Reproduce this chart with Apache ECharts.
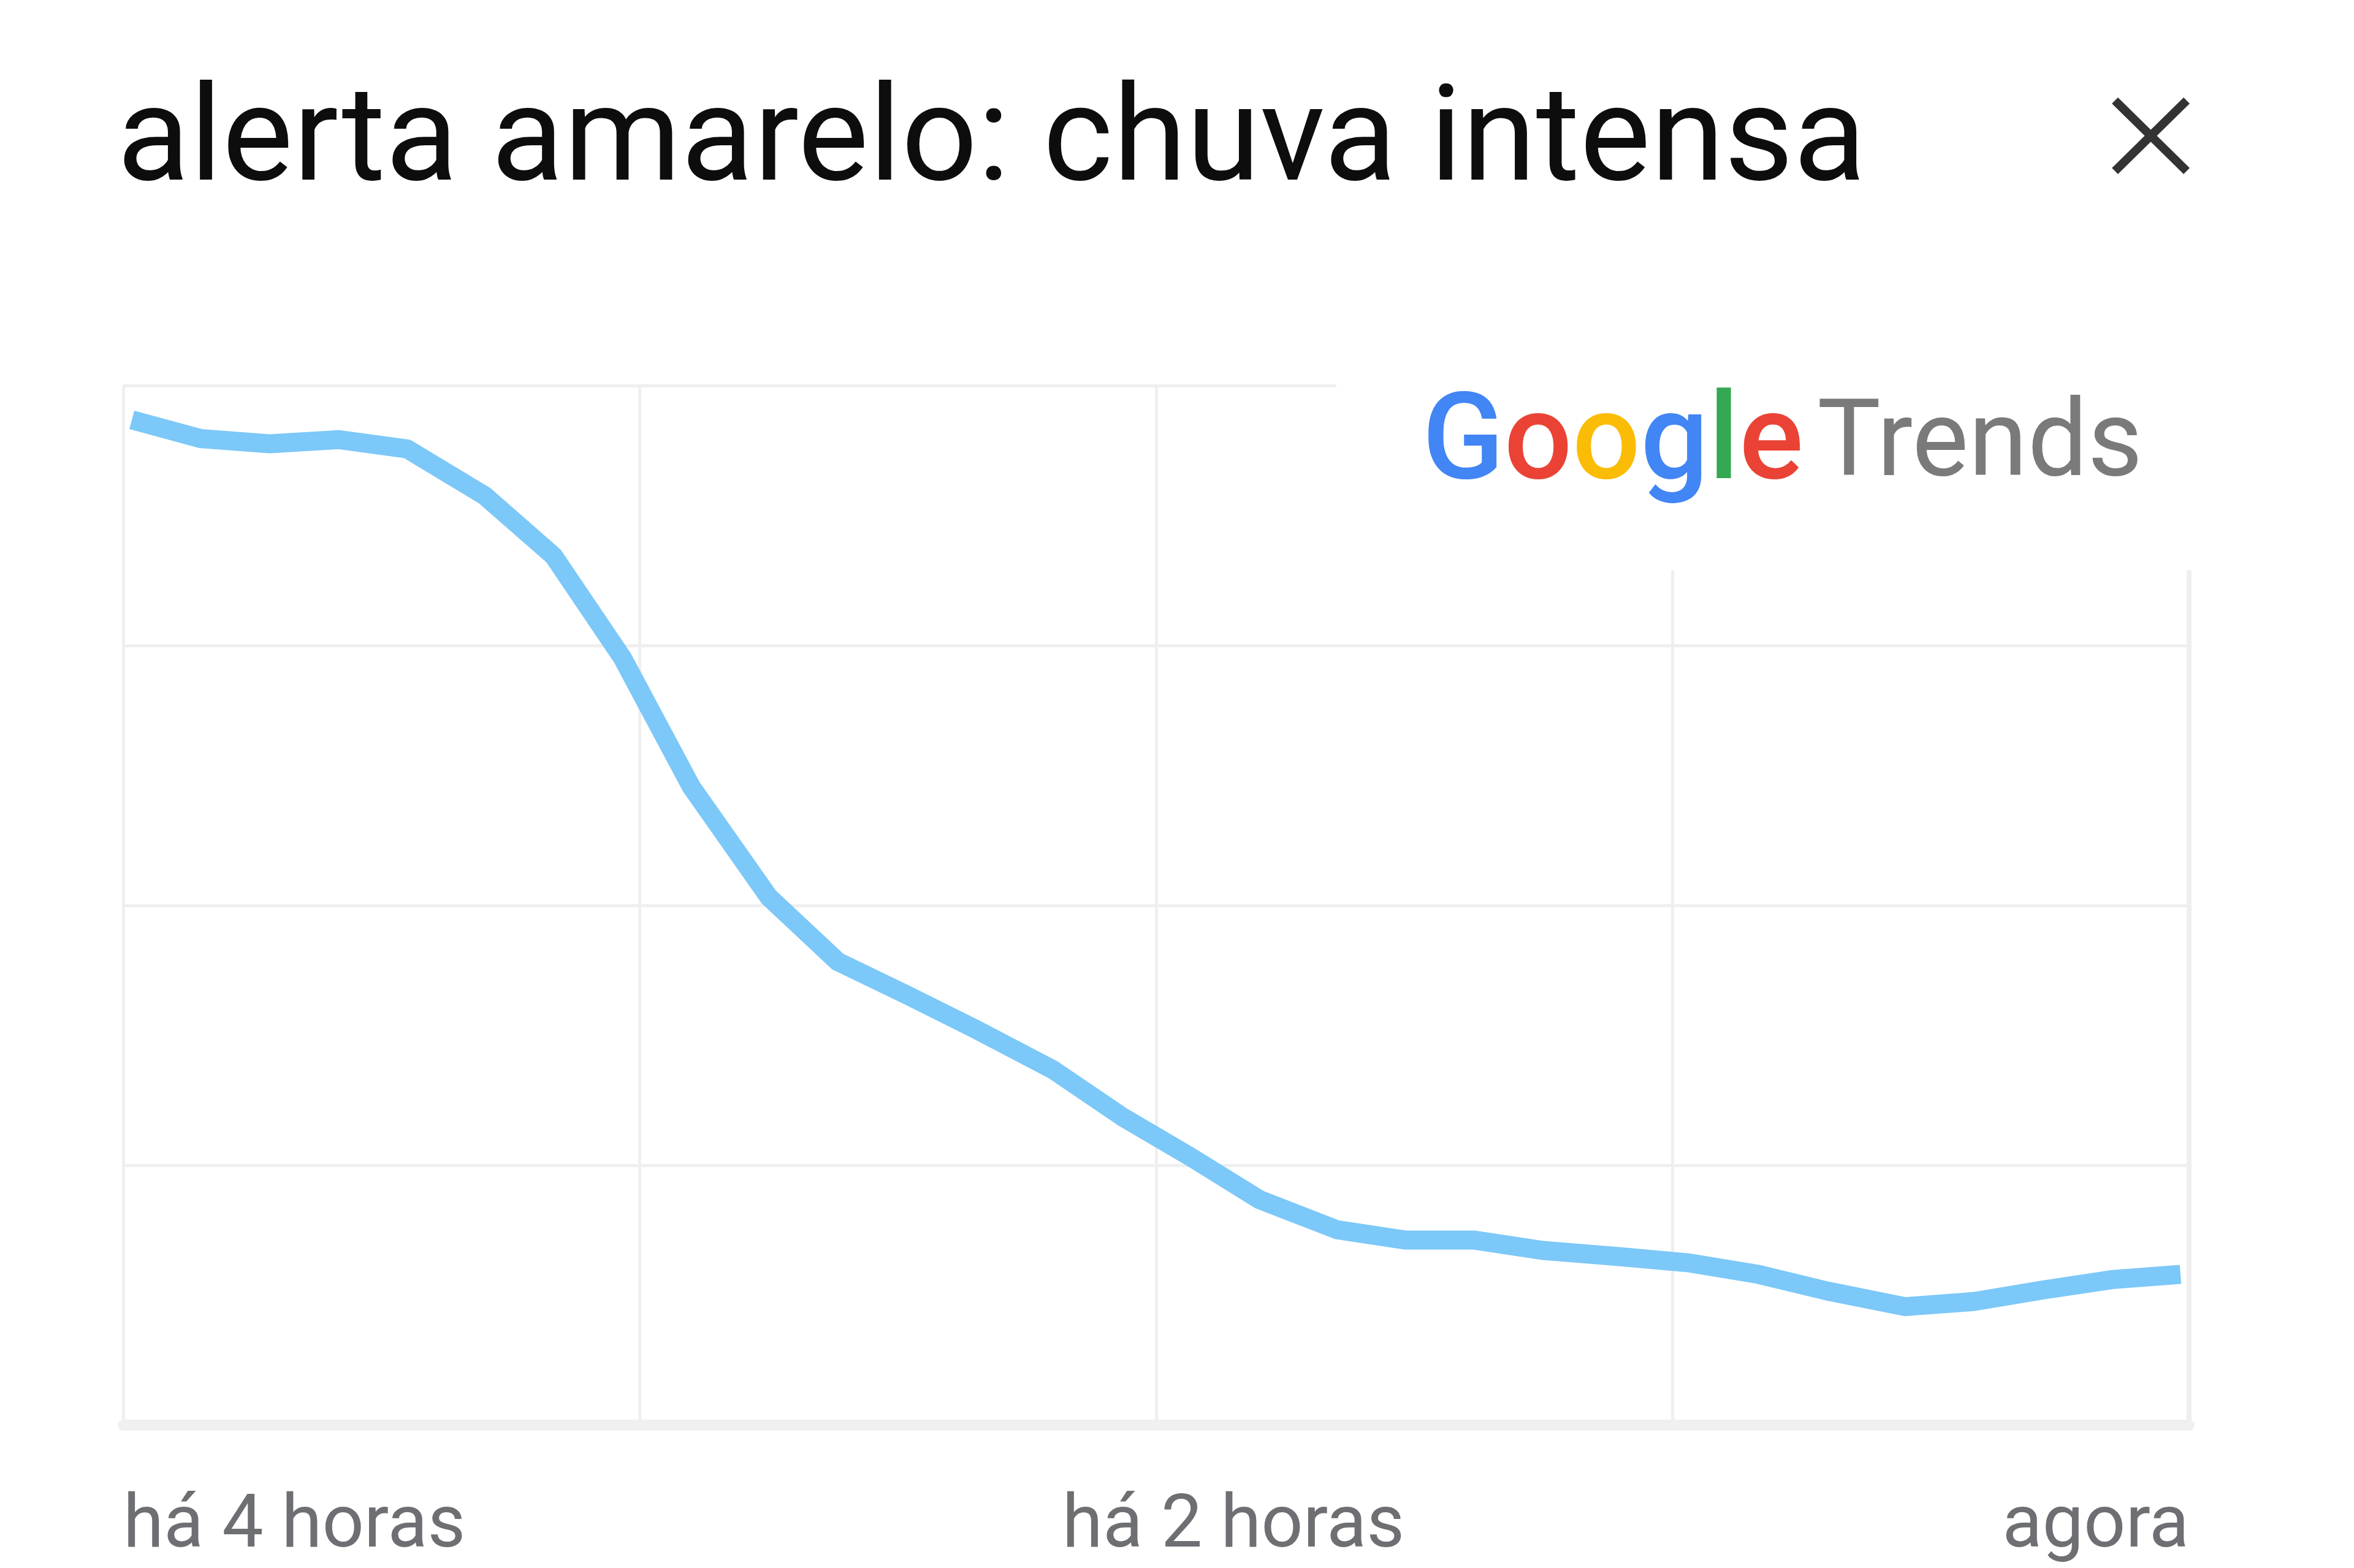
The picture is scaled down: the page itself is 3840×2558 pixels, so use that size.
<!DOCTYPE html>
<html>
<head>
<meta charset="utf-8">
<script src="https://cdn.jsdelivr.net/npm/echarts@6/dist/echarts.min.js"></script>
<style>
  html, body { margin: 0; padding: 0; background: #ffffff; }
  #chart { width: 3840px; height: 2558px; }
</style>
</head>
<body>
<div id="chart"></div>
<script>
// ---- data ----
const titleText = 'alerta amarelo: chuva intensa';
// minutes relative to "now" (x position of each sample)
const minutes = [-239, -231, -223, -215, -207, -198, -190, -182, -174, -165,
                 -157, -149, -141, -132, -124, -116, -108, -99, -91, -83,
                 -75, -66, -58, -50, -42, -33, -25, -17, -9, -1];
// search interest (0-100)
const interest = [96.7, 94.9, 94.4, 94.8, 93.9, 89.4, 83.6, 73.8, 61.4, 50.8,
                  44.6, 41.4, 38.1, 34.2, 29.7, 25.8, 21.7, 18.8, 17.8, 17.8,
                  16.8, 16.2, 15.6, 14.5, 12.9, 11.4, 11.9, 13.0, 14.0, 14.5];
const tickValues = [-240, -120, 0];
const tickLabels = ['há 4 horas', 'há 2 horas', 'agora'];

const seriesData = minutes.map((m, i) => [m, interest[i]]);

const chart = echarts.init(document.getElementById('chart'), null, { renderer: 'canvas' });
const gridColor = '#efefef';
const labelColor = '#6d6f72';

chart.setOption({
  backgroundColor: '#ffffff',
  animation: false,
  title: {
    text: titleText,
    left: 186,
    top: 124,
    textStyle: { fontFamily: 'Roboto', fontWeight: 'normal', fontSize: 218, color: '#0d0d0d' }
  },
  grid: { left: 201, right: 269, top: 629, bottom: 233, containLabel: false },
  xAxis: {
    type: 'value',
    min: -240, max: 0, interval: 60,
    axisLine: { show: true, lineStyle: { color: '#f0f0f0', width: 18 } },
    axisTick: { show: false },
    splitLine: { show: true, lineStyle: { color: gridColor, width: 5 } },
    axisLabel: {
      show: true,
      customValues: tickValues,
      alignMinLabel: 'left',
      alignMaxLabel: 'right',
      margin: 108,
      fontFamily: 'Roboto',
      fontSize: 120,
      color: labelColor,
      formatter: function (v) {
        const idx = tickValues.indexOf(v);
        if (idx === 1) return '{m|' + tickLabels[idx] + '}';
        return idx >= 0 ? tickLabels[idx] : '';
      },
      rich: {
        m: { fontFamily: 'Roboto', fontSize: 120, color: labelColor, padding: [0, 0, 0, 252] }
      }
    }
  },
  yAxis: {
    type: 'value',
    min: 0, max: 100, interval: 25,
    axisLine: { show: true, lineStyle: { color: gridColor, width: 8 } },
    axisTick: { show: false },
    axisLabel: { show: false },
    splitLine: { show: true, lineStyle: { color: gridColor, width: 5 } }
  },
  graphic: [
    {
      type: 'rect',
      z: 1,
      shape: { x: 2180, y: 595, width: 1420, height: 335 },
      style: { fill: '#ffffff' }
    },
    {
      type: 'text',
      z: 2,
      x: 2320, y: 731,
      style: {
        text: '{b|G}{r|o}{y|o}{b|g}{g|l}{r|e}{sp| }{t|Trends}',
        verticalAlign: 'middle',
        rich: {
          b: { fontFamily: 'Roboto', fontSize: 196, fill: '#4285f4', fontWeight: 500 },
          r: { fontFamily: 'Roboto', fontSize: 196, fill: '#ea4335', fontWeight: 500 },
          y: { fontFamily: 'Roboto', fontSize: 196, fill: '#fbbc05', fontWeight: 500 },
          g: { fontFamily: 'Roboto', fontSize: 196, fill: '#34a853', fontWeight: 500 },
          sp: { fontFamily: 'Roboto', fontSize: 90 },
          t: { fontFamily: 'Roboto', fontSize: 174, fill: '#7a7a7a' }
        }
      }
    },
    {
      type: 'line', z: 2,
      shape: { x1: 3450, y1: 164, x2: 3567, y2: 279 },
      style: { stroke: '#333333', lineWidth: 14 }
    },
    {
      type: 'line', z: 2,
      shape: { x1: 3567, y1: 164, x2: 3450, y2: 279 },
      style: { stroke: '#333333', lineWidth: 14 }
    }
  ],
  series: [{
    type: 'line',
    data: seriesData,
    showSymbol: false,
    symbol: 'none',
    smooth: false,
    z: 3,
    lineStyle: { color: '#7cc8f8', width: 31, cap: 'butt', join: 'round' }
  }]
});
</script>
</body>
</html>
